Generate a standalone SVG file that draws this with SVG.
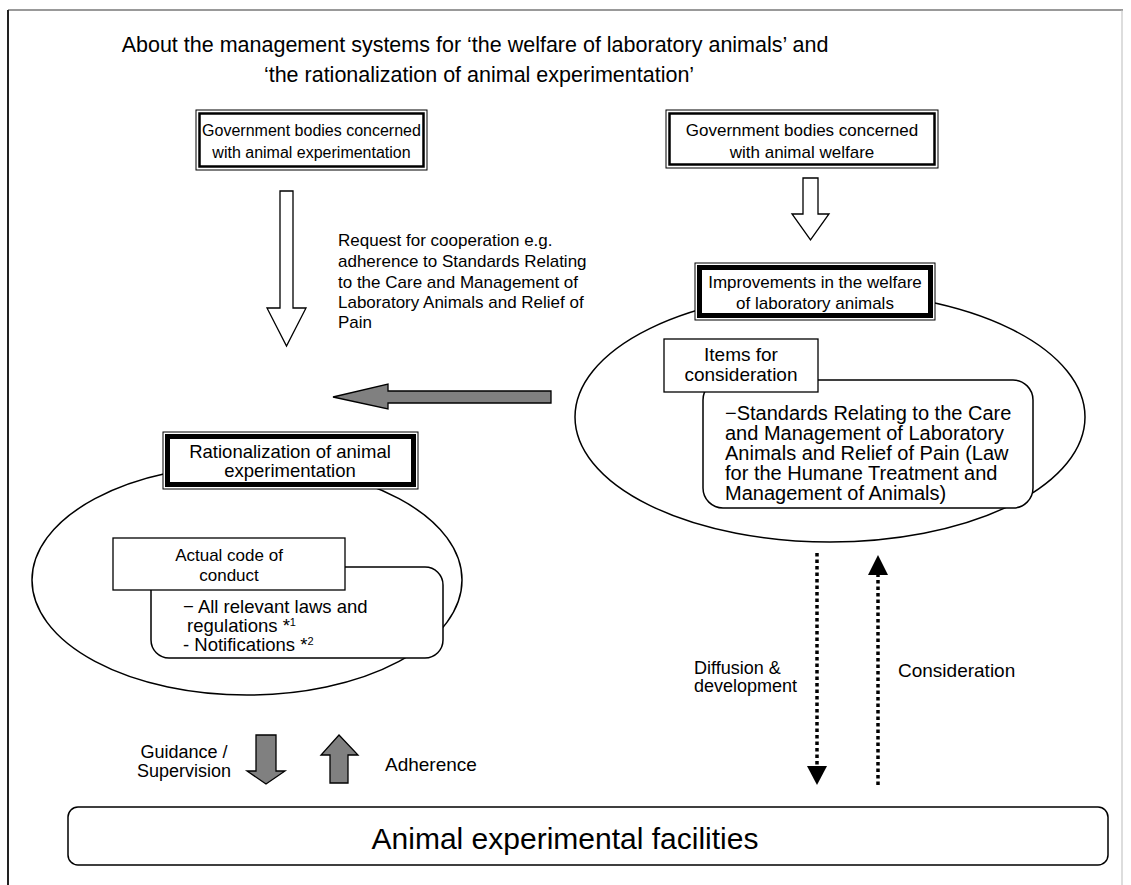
<svg xmlns="http://www.w3.org/2000/svg" width="1131" height="885" viewBox="0 0 1131 885">
<style>
text{font-family:"Liberation Sans",Arial,Helvetica,sans-serif;fill:#000}
.t16{font-size:16px}
.t17{font-size:17px}
.t18{font-size:18px}
.t19{font-size:19px}
.t20{font-size:20px}
.mid{text-anchor:middle}
.thin{fill:#fff;stroke:#000;stroke-width:1}
.dbl{fill:none;stroke:#000;stroke-width:2.5}
.thick{fill:none;stroke:#000;stroke-width:5}
.ell{fill:none;stroke:#000;stroke-width:1.5}
.rbox{fill:#fff;stroke:#000;stroke-width:1.5}
.lbl{fill:#fff;stroke:#000;stroke-width:1.3}
.hollow{fill:#fff;stroke:#000;stroke-width:1.3}
.gray{fill:#808080;stroke:#000;stroke-width:1.3}
.dot{fill:none;stroke:#000;stroke-width:3.5;stroke-dasharray:3.5 3}
</style>
<g id="frame">
<line x1="8" y1="10" x2="1123" y2="10" stroke="#999" stroke-width="2"/>
<line x1="8" y1="10" x2="8" y2="885" stroke="#222" stroke-width="2"/>
<line x1="1122" y1="10" x2="1122" y2="885" stroke="#bbb" stroke-width="1"/>
</g>
<g id="title">
<text class="mid" font-size="21.5" x="475" y="52">About the management systems for ‘the welfare of laboratory animals’ and</text>
<text class="mid" font-size="21.5" x="479" y="82">‘the rationalization of animal experimentation’</text>
</g>
<g id="ellipses">
<ellipse class="ell" cx="830" cy="417" rx="255" ry="125"/>
<ellipse class="ell" cx="247" cy="580" rx="215" ry="115"/>
</g>
<g id="gov-exp">
<rect class="thin" x="196" y="110" width="231" height="60"/>
<rect class="dbl" x="199.5" y="113.5" width="224" height="53"/>
<text class="t16 mid" x="311.5" y="136">Government bodies concerned</text>
<text class="t16 mid" x="311.5" y="158">with animal experimentation</text>
</g>
<g id="gov-welfare">
<rect class="thin" x="666" y="110" width="272" height="58"/>
<rect class="dbl" x="669.5" y="113.5" width="265" height="51"/>
<text class="t17 mid" x="802" y="136">Government bodies concerned</text>
<text class="t17 mid" x="802" y="158">with animal welfare</text>
</g>
<g id="improvements">
<rect class="thin" x="695" y="263" width="240" height="57"/>
<rect class="thick" x="699.5" y="267.5" width="231" height="48"/>
<text class="t17 mid" x="815" y="288">Improvements in the welfare</text>
<text class="t17 mid" x="815" y="309">of laboratory animals</text>
</g>
<g id="items">
<rect class="rbox" x="703" y="380" width="330" height="128" rx="20"/>
<rect class="lbl" x="664" y="339" width="154" height="53"/>
<text class="t19 mid" x="741" y="361">Items for</text>
<text class="t19 mid" x="741" y="381">consideration</text>
<text class="t20" x="725" y="420">−Standards Relating to the Care</text>
<text class="t20" x="725" y="440">and Management of Laboratory</text>
<text class="t20" x="725" y="460">Animals and Relief of Pain (Law</text>
<text class="t20" x="725" y="480">for the Humane Treatment and</text>
<text class="t20" x="725" y="500">Management of Animals)</text>
</g>
<g id="rationalization">
<rect class="thin" x="163" y="432" width="255" height="57"/>
<rect class="thick" x="167.5" y="436.5" width="246" height="48"/>
<text class="mid" font-size="18.5" x="290" y="458">Rationalization of animal</text>
<text class="mid" font-size="18.5" x="290" y="477">experimentation</text>
</g>
<g id="code">
<rect class="rbox" x="151" y="567" width="292" height="91" rx="18"/>
<rect class="lbl" x="113" y="538" width="232" height="52"/>
<text class="t17 mid" x="229" y="561">Actual code of</text>
<text class="t17 mid" x="229" y="581">conduct</text>
<text font-size="18.5" x="183" y="613">− All relevant laws and</text>
<text font-size="18.5" x="187" y="632">regulations *<tspan font-size="11" dy="-6">1</tspan></text>
<text font-size="18.5" x="183" y="651">- Notifications *<tspan font-size="11" dy="-6">2</tspan></text>
</g>
<g id="facilities">
<rect class="rbox" x="68" y="807" width="1040" height="58" rx="10"/>
<text class="mid" x="565" y="849" font-size="30">Animal experimental facilities</text>
</g>
<g id="connectors">
<polygon class="hollow" points="280,191 293,191 293,308 306,308 286.5,346 267,308 280,308"/>
<polygon class="hollow" points="803,178 818,178 818,214 829,214 810.5,240 792,214 803,214"/>
<polygon class="gray" points="551,391 388,391 388,384 333,397 388,409 388,403 551,403"/>
<polygon class="gray" points="256,735 276,735 276,771 285,771 266,784 247,771 256,771"/>
<polygon class="gray" points="339,735 358,755 348,755 348,783 330,783 330,755 321,755"/>
<line class="dot" x1="817" y1="553" x2="817" y2="767"/>
<polygon points="807,766 827,766 817,785" fill="#000"/>
<line class="dot" x1="878" y1="785" x2="878" y2="574"/>
<polygon points="868,575 888,575 878,555" fill="#000"/>
</g>
<g id="labels">
<text class="t17" x="338" y="246">Request for cooperation e.g.</text>
<text class="t17" x="338" y="267">adherence to Standards Relating</text>
<text class="t17" x="338" y="288">to the Care and Management of</text>
<text class="t17" x="338" y="308">Laboratory Animals and Relief of</text>
<text class="t17" x="338" y="328">Pain</text>
<text class="t18 mid" x="184" y="758">Guidance /</text>
<text class="t18 mid" x="184" y="777">Supervision</text>
<text class="t19" x="385" y="771">Adherence</text>
<text class="t18" x="694" y="674">Diffusion &amp;</text>
<text class="t18" x="694" y="692">development</text>
<text class="t19" x="898" y="677">Consideration</text>
</g>
</svg>
